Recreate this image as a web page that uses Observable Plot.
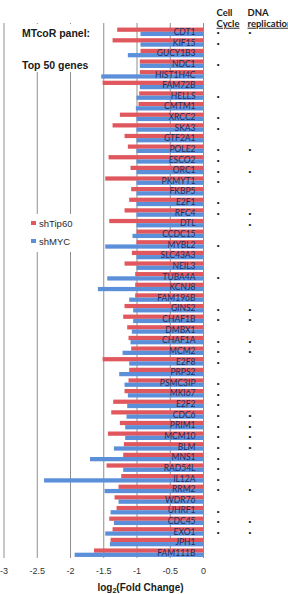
<!DOCTYPE html>
<html>
<head>
<meta charset="utf-8">
<script src="https://cdn.jsdelivr.net/npm/d3@7"></script>
<script src="https://cdn.jsdelivr.net/npm/@observablehq/plot@0.6"></script>
<style>
  html, body { margin: 0; padding: 0; background: #fff; overflow: hidden; }
  #chart { position: relative; width: 288px; height: 594px; }
  .box { position: absolute; background: #fff; font-family: "Liberation Sans", Arial, sans-serif; color: #1a1a1a; }
  #title { left: 16px; top: 24px; width: 84px; height: 48px; font-weight: bold; font-size: 10.5px; line-height: 12px; }
  #title .l1 { position: absolute; left: 6px; top: 3px; white-space: nowrap; }
  #title .l2 { position: absolute; left: 6px; top: 35px; white-space: nowrap; }
  #legend { left: 26px; top: 214px; width: 54px; height: 38px; font-size: 9.5px; color: #2a2a2a; }
  #legend .item { position: absolute; left: 5px; height: 12px; line-height: 12px; white-space: nowrap; }
  #legend .sw { display: inline-block; width: 5px; height: 4px; margin-right: 3px; vertical-align: middle; position: relative; top: -1px; }
  #xlabel { left: 0; top: 582px; width: 281px; text-align: center; font-weight: bold; font-size: 10px; line-height: 12px; background: none; }
  #xlabel sub { font-size: 7px; vertical-align: -2px; line-height: 0; }
</style>
</head>
<body>
<div id="chart"></div>
<script>
// Genes, top to bottom
const genes = ["CDT1","KIF15","GUCY1B3","NDC1","HIST1H4C","FAM72B","HELLS","CMTM1","XRCC2","SKA3",
  "GTF2A1","POLE2","ESCO2","ORC1","PKMYT1","FKBP5","E2F1","RFC4","DTL","CCDC15",
  "MYBL2","SLC43A3","NEIL3","TUBA4A","KCNJ8","FAM196B","GINS2","CHAF1B","DMBX1","CHAF1A",
  "MCM2","E2F8","PRPS2","PSMC3IP","MKI67","E2F2","CDC6","PRIM1","MCM10","BLM",
  "MNS1","RAD54L","IL12A","RRM2","WDR76","UHRF1","CDC45","EXO1","JPH1","FAM111B"];

// log2 fold change after Tip60 knockdown
const shTip60 = [-1.29,-1.36,-0.94,-0.95,-0.95,-1.51,-0.96,-0.97,-1.25,-1.36,
  -1.18,-1.13,-1.42,-1.09,-1.47,-1.08,-1.11,-1.18,-1.41,-1.00,
  -1.00,-1.07,-1.18,-1.02,-1.02,-1.02,-1.18,-1.20,-1.14,-1.12,
  -1.08,-1.51,-1.11,-1.12,-1.18,-1.35,-1.38,-1.25,-1.43,-1.19,
  -1.20,-1.45,-1.23,-1.27,-1.33,-1.30,-1.41,-1.36,-1.39,-1.64];

// log2 fold change after MYC knockdown
const shMYC = [-0.94,-0.94,-1.13,-0.95,-1.53,-0.95,-1.00,-1.01,-1.00,-1.00,
  -1.00,-1.00,-1.00,-1.00,-1.00,-1.00,-1.00,-1.00,-1.00,-1.06,
  -1.47,-1.00,-1.00,-1.44,-1.58,-1.11,-1.05,-1.05,-1.07,-1.09,
  -1.21,-1.11,-1.26,-1.18,-1.13,-1.14,-1.15,-1.17,-1.17,-1.34,
  -1.70,-1.20,-2.39,-1.48,-1.27,-1.39,-1.34,-1.47,-1.40,-1.93];

// Functional annotations
const cellCycle = ["CDT1","KIF15","NDC1","HELLS","XRCC2","SKA3","POLE2","ESCO2","ORC1","PKMYT1",
  "E2F1","RFC4","MYBL2","TUBA4A","GINS2","CHAF1B","CHAF1A","MCM2","E2F8","PSMC3IP",
  "MKI67","E2F2","CDC6","PRIM1","MCM10","BLM","MNS1","RAD54L","IL12A","RRM2",
  "UHRF1","CDC45","EXO1"];
const dnaReplication = ["CDT1","POLE2","ORC1","RFC4","DTL","GINS2","CHAF1B","CHAF1A","MCM2","CDC6",
  "PRIM1","MCM10","BLM","RRM2","CDC45","EXO1"];

const xTicks = [-3, -2.5, -2, -1.5, -1, -0.5, 0];
const seriesNames = ["shTip60", "shMYC"];
const colors = ["#e0585e", "#5b8fd9"];

const rows = genes.map((g, i) => ({
  gene: g, tip60: shTip60[i], myc: shMYC[i],
  cc: cellCycle.includes(g), dna: dnaReplication.includes(g)
}));

const H = 580, mT = 23, mB = 22, yInsetTop = 3.5;
const pIn = 0.2, pOut = 0.1;
const step = (H - mB - mT - yInsetTop) / (genes.length - pIn + 2 * pOut);
const bw = step * (1 - pIn);

const labelFont = "Lato, 'Open Sans', sans-serif";
const headFont = "Lato, 'Liberation Sans', sans-serif";
const head = { frameAnchor: "top-right", textAnchor: "start", fontWeight: "bold",
  fontSize: 9.5, fontFamily: headFont, fill: "#222" };

const svg = Plot.plot({
  width: 288,
  height: H,
  marginTop: mT,
  marginBottom: mB,
  marginLeft: 3.5,
  marginRight: 85,
  style: { background: "white", fontFamily: "'Liberation Sans', Arial, sans-serif", color: "#333" },
  x: { domain: [-3, 0], label: null },
  y: { domain: genes, paddingInner: pIn, paddingOuter: pOut, insetTop: yInsetTop, axis: null, label: null },
  marks: [
    Plot.gridX(xTicks, { stroke: "#8e8e8e", strokeOpacity: 1, strokeWidth: 1 }),
    Plot.barX(rows, { x: "tip60", y: "gene", fill: colors[0], insetBottom: bw / 2 }),
    Plot.barX(rows, { x: "myc", y: "gene", fill: colors[1], insetTop: bw / 2 }),
    Plot.text(rows, { x: () => 0, y: "gene", text: "gene", textAnchor: "end", dx: -8,
      fill: "#1f2d5c", fontSize: 8.5, fontFamily: labelFont }),
    Plot.text(rows.filter(d => d.cc), { x: () => 0, y: "gene", text: () => "•", dx: 14.7, dy: 0.5,
      fill: "#111", fontSize: 8 }),
    Plot.text(rows.filter(d => d.dna), { x: () => 0, y: "gene", text: () => "•", dx: 46.3, dy: 0.5,
      fill: "#111", fontSize: 8 }),
    Plot.axisX(xTicks, { tickSize: 0, tickPadding: 9, tickFormat: d => String(d),
      fontSize: 9, fill: "#333", label: null }),
    Plot.text(["Cell"], { ...head, text: d => d, dx: 13, dy: -14 }),
    Plot.text(["Cycle"], { ...head, text: d => d, dx: 13, dy: -3.5 }),
    Plot.text(["DNA"], { ...head, text: d => d, dx: 44, dy: -14 }),
    Plot.text(["replication"], { ...head, text: d => d, dx: 44, dy: -3.5 })
  ]
});

// Underline the second header line of each annotation column
d3.select(svg).selectAll("text")
  .filter(function () { return this.textContent === "Cycle" || this.textContent === "replication"; })
  .attr("text-decoration", "underline");

const chart = document.getElementById("chart");
chart.appendChild(svg);

// Title box
const title = document.createElement("div");
title.className = "box";
title.id = "title";
title.innerHTML = '<div class="l1">MTcoR panel:</div><div class="l2">Top 50 genes</div>';
chart.appendChild(title);

// Legend box
const legend = document.createElement("div");
legend.className = "box";
legend.id = "legend";
seriesNames.forEach((name, i) => {
  const item = document.createElement("div");
  item.className = "item";
  item.style.top = (4 + i * 18) + "px";
  item.innerHTML = `<span class="sw" style="background:${colors[i]}"></span>${name}`;
  legend.appendChild(item);
});
chart.appendChild(legend);

// Axis title
const xl = document.createElement("div");
xl.className = "box";
xl.id = "xlabel";
xl.innerHTML = "log<sub>2</sub>(Fold Change)";
chart.appendChild(xl);
</script>
</body>
</html>
